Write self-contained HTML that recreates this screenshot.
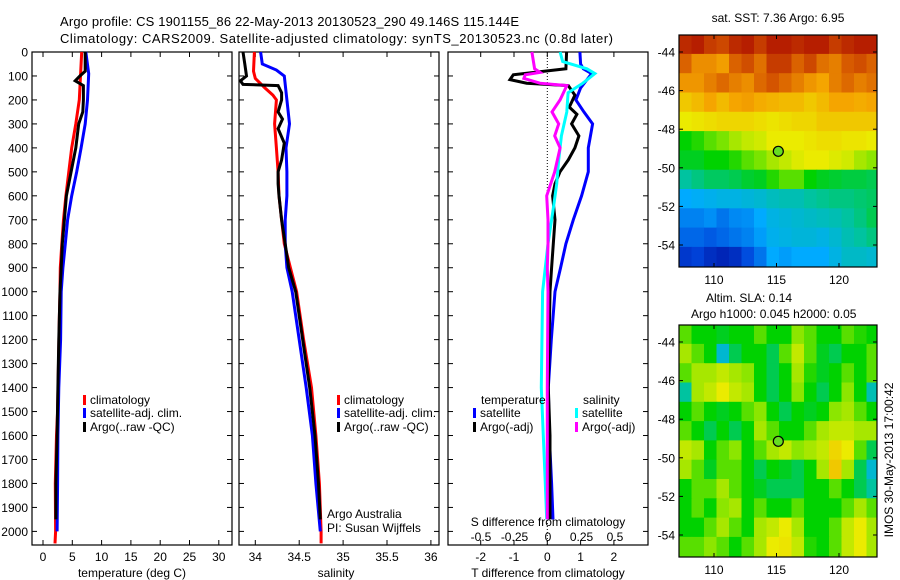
<!DOCTYPE html>
<html><head><meta charset="utf-8">
<style>
body{margin:0;background:#fff;}
svg{display:block;font-family:"Liberation Sans",sans-serif;}
</style></head>
<body>
<svg id="chart" width="900" height="580" viewBox="0 0 900 580">
<g id="g"></g>
</svg>
<script>
// ---------- data ----------
const depthTicks=[0,100,200,300,400,500,600,700,800,900,1000,1100,1200,1300,1400,1500,1600,1700,1800,1900,2000];
const tempTicks=[0,5,10,15,20,25,30];
const salTicks=[34,34.5,35,35.5,36];
const tdTicks=[-2,-1,0,1,2];
const sdTicks=[-0.5,-0.25,0,0.25,0.5];
const latTicks=[-44,-46,-48,-50,-52,-54];
const lonTicks=[110,115,120];

const climTDepth=[0,200,300,400,500,600,700,800,900,1000,1100,1500,1600,1800,2000,2050];
const climT=[6.6,6.2,5.6,4.9,4.4,3.9,3.5,3.2,2.95,2.9,2.8,2.5,2.3,2.1,2.15,2.05];
const satTDepth=[0,90,200,300,400,500,600,700,800,900,1000,1200,1400,1600,1800,2000];
const satT=[7.3,7.8,7.6,7.2,6.5,5.75,4.9,4.2,3.8,3.4,3.1,3.0,2.7,2.55,2.5,2.4];
const argoTDepth=[0,80,100,120,140,200,250,300,400,500,600,700,800,900,1000,1200,1400,1600,1800,1950];
const argoT=[7.2,7.2,6.3,5.5,6.9,6.9,6.8,6.1,5.6,4.8,4.0,3.65,3.3,3.1,2.9,2.7,2.55,2.4,2.2,2.2];

const climSDepth=[0,80,110,150,180,200,300,400,500,600,700,800,900,1000,1200,1400,1600,1800,2000,2050];
const climS=[33.99,33.98,34.0,34.11,34.2,34.24,34.22,34.24,34.26,34.27,34.3,34.33,34.4,34.47,34.55,34.64,34.69,34.73,34.75,34.75];
const satSDepth=[0,50,75,100,200,300,400,500,600,700,800,900,1000,1200,1400,1600,1800,2000];
const satS=[34.06,34.08,34.24,34.33,34.36,34.39,34.35,34.36,34.36,34.34,34.34,34.36,34.42,34.5,34.58,34.65,34.69,34.74];
const argoSDepth=[0,50,100,120,135,140,170,200,250,280,320,380,450,500,550,600,700,800,900,1000,1200,1400,1600,1800,1950];
const argoS=[33.86,33.88,33.9,33.83,33.86,34.26,34.3,34.3,34.26,34.31,34.26,34.33,34.3,34.26,34.26,34.27,34.3,34.34,34.38,34.46,34.54,34.62,34.68,34.72,34.74];

const satTdDepth=[0,50,70,90,150,200,250,300,400,500,600,700,800,900,1000,1200,1400,1600,1800,1950];
const satTd=[0.98,1.0,1.08,1.33,1.0,0.86,1.1,1.36,1.23,1.23,1.03,0.78,0.56,0.4,0.23,0.12,0.03,0.06,0.13,0.17];
const argoTdDepth=[0,70,95,115,130,140,180,230,260,300,350,400,450,500,550,600,700,800,900,1000,1400,1600,1950];
const argoTd=[0.58,0.56,-1.02,-1.12,-0.62,0.63,0.83,0.66,0.89,0.73,0.95,0.83,0.63,0.38,0.23,0.16,0.23,0.18,0.13,0.08,0.03,0.08,0.08];
const satSdDepth=[0,40,70,90,130,170,250,350,450,550,650,800,900,1000,1400,1600,1800,1950];
const satSd=[0.09,0.11,0.29,0.35,0.26,0.15,0.14,0.10,0.08,0.065,0.04,0.0,-0.02,-0.04,-0.05,-0.035,-0.02,-0.01];
const argoSdDepth=[0,70,85,95,110,130,140,200,250,300,350,400,500,600,700,800,900,1000,1400,1950];
const argoSd=[-0.12,-0.10,-0.06,-0.17,-0.18,-0.06,0.14,0.09,0.03,0.08,0.05,0.09,0.05,-0.01,0.0,0.0,-0.005,0.0,-0.005,-0.005];

const sstGrid=[
[0.93,0.95,0.9,0.88,0.93,0.95,0.9,0.95,0.95,0.93,0.95,0.95,0.9,0.93,0.95,0.95],
[0.84,0.78,0.78,0.76,0.84,0.87,0.82,0.9,0.9,0.84,0.88,0.82,0.8,0.85,0.87,0.84],
[0.77,0.77,0.8,0.83,0.8,0.78,0.83,0.86,0.83,0.8,0.77,0.75,0.8,0.83,0.8,0.82],
[0.7,0.72,0.75,0.72,0.75,0.76,0.74,0.73,0.72,0.72,0.7,0.72,0.75,0.75,0.74,0.75],
[0.65,0.66,0.67,0.68,0.68,0.68,0.67,0.66,0.67,0.68,0.68,0.7,0.7,0.7,0.7,0.7],
[0.5,0.52,0.55,0.57,0.6,0.62,0.63,0.65,0.65,0.65,0.66,0.67,0.67,0.66,0.66,0.65],
[0.48,0.48,0.5,0.5,0.52,0.55,0.57,0.6,0.62,0.64,0.65,0.65,0.64,0.63,0.6,0.58],
[0.4,0.42,0.44,0.44,0.45,0.47,0.48,0.52,0.55,0.55,0.5,0.48,0.47,0.46,0.46,0.45],
[0.3,0.31,0.32,0.33,0.33,0.34,0.35,0.37,0.38,0.38,0.4,0.41,0.42,0.42,0.43,0.44],
[0.24,0.24,0.26,0.22,0.25,0.26,0.3,0.33,0.34,0.35,0.36,0.37,0.38,0.4,0.42,0.45],
[0.2,0.2,0.18,0.2,0.22,0.24,0.28,0.32,0.33,0.34,0.34,0.33,0.35,0.38,0.4,0.42],
[0.12,0.14,0.1,0.08,0.1,0.16,0.22,0.3,0.28,0.3,0.3,0.3,0.33,0.36,0.36,0.35]];
const slaGrid=[
[0.55,0.5,0.5,0.48,0.5,0.5,0.55,0.5,0.5,0.58,0.55,0.5,0.5,0.55,0.52,0.5],
[0.6,0.55,0.5,0.35,0.45,0.5,0.5,0.45,0.55,0.62,0.55,0.48,0.45,0.5,0.5,0.55],
[0.55,0.6,0.6,0.62,0.6,0.58,0.5,0.45,0.5,0.6,0.52,0.48,0.5,0.55,0.5,0.55],
[0.4,0.6,0.62,0.65,0.62,0.6,0.5,0.45,0.5,0.58,0.5,0.45,0.5,0.58,0.5,0.38],
[0.5,0.55,0.5,0.48,0.5,0.55,0.58,0.5,0.45,0.5,0.48,0.5,0.58,0.6,0.55,0.5],
[0.55,0.5,0.45,0.5,0.45,0.5,0.6,0.55,0.5,0.5,0.55,0.6,0.62,0.62,0.6,0.6],
[0.62,0.6,0.5,0.55,0.58,0.5,0.55,0.6,0.62,0.58,0.6,0.62,0.68,0.65,0.55,0.45],
[0.6,0.55,0.48,0.55,0.55,0.5,0.45,0.5,0.48,0.45,0.5,0.6,0.7,0.6,0.45,0.35],
[0.5,0.55,0.55,0.6,0.55,0.5,0.48,0.45,0.45,0.45,0.5,0.5,0.55,0.5,0.45,0.4],
[0.5,0.55,0.5,0.58,0.6,0.5,0.55,0.5,0.5,0.55,0.5,0.5,0.5,0.55,0.6,0.55],
[0.5,0.5,0.55,0.6,0.55,0.5,0.6,0.62,0.65,0.6,0.5,0.5,0.55,0.62,0.65,0.6],
[0.55,0.55,0.58,0.55,0.5,0.55,0.6,0.65,0.66,0.62,0.52,0.5,0.55,0.62,0.65,0.6]];
const argoLon=115.144, argoLat=-49.146;

// ---------- helpers ----------
const NS="http://www.w3.org/2000/svg";
const G=document.getElementById('g');
function el(tag,attrs,parent){const e=document.createElementNS(NS,tag);for(const k in attrs)e.setAttribute(k,attrs[k]);(parent||G).appendChild(e);return e;}
function txt(x,y,s,size,anchor,parent){const t=el('text',{x:x,y:y,'font-size':size||12,'text-anchor':anchor||'start',fill:'#000'},parent);t.textContent=s;return t;}
const yD=d=>52+d*0.2397;
const xT=v=>43+v*5.86;
const xS=v=>255.3+(v-34)*87.8;
const xTd=v=>547.3+v*33.3;
const xSd=v=>548+v*134;
function line(xs,ds,fx,color,name){
  const p=xs.map((v,i)=>fx(v).toFixed(1)+','+yD(ds[i]).toFixed(1)).join(' ');
  const l=el('polyline',{points:p,fill:'none',stroke:color,'stroke-width':3,'stroke-linejoin':'miter'});
  
  
}
function frame(x0,x1,y0,y1,name){
  const r=el('rect',{x:x0,y:y0,width:x1-x0,height:y1-y0,fill:'none',stroke:'#000','stroke-width':1.2});
  
  
}
const cmapStops=[[0,[0,0,140]],[0.15,[0,70,220]],[0.3,[0,170,255]],[0.4,[0,195,160]],[0.5,[0,210,0]],[0.58,[140,230,0]],[0.65,[235,235,0]],[0.75,[245,165,0]],[0.85,[215,90,0]],[1,[165,0,0]]];
function jet(v){
  v=Math.max(0,Math.min(1,v));
  for(let i=1;i<cmapStops.length;i++){
    if(v<=cmapStops[i][0]){
      const [a,ca]=cmapStops[i-1],[b,cb]=cmapStops[i];const f=(v-a)/(b-a);
      return `rgb(${ca.map((c,k)=>Math.round(c+(cb[k]-c)*f)).join(',')})`;
    }
  }
  return 'rgb(165,0,0)';
}

// ---------- titles ----------
let t=txt(60,26,'Argo profile: CS 1901155_86 22-May-2013 20130523_290 49.146S 115.144E',13);
t.setAttribute('textLength','459');
t=txt(60,43,'Climatology: CARS2009. Satellite-adjusted climatology: synTS_20130523.nc (0.8d later)',13);
t.setAttribute('textLength','553');

// ---------- depth axis ----------
depthTicks.forEach(d=>{const a=txt(28,yD(d)+4.5,String(d),12,'end');});
const B=545;
frame(32,232,52,B,'temperature-panel');
frame(239,439,52,B,'salinity-panel');
frame(448,648,52,B,'difference-panel');
[[32,232],[239,439],[448,648]].forEach(([a,b])=>depthTicks.forEach(d=>{el('line',{x1:a,x2:a+5,y1:yD(d),y2:yD(d),stroke:'#000'});el('line',{x1:b-5,x2:b,y1:yD(d),y2:yD(d),stroke:'#000'});}));
tempTicks.forEach(v=>{el('line',{x1:xT(v),x2:xT(v),y1:B,y2:B-5,stroke:'#000'});el('line',{x1:xT(v),x2:xT(v),y1:52,y2:57,stroke:'#000'});const a=txt(xT(v),561,String(v),12,'middle');});
t=txt(132,577,'temperature (deg C)',12,'middle');
salTicks.forEach(v=>{el('line',{x1:xS(v),x2:xS(v),y1:B,y2:B-5,stroke:'#000'});el('line',{x1:xS(v),x2:xS(v),y1:52,y2:57,stroke:'#000'});const a=txt(xS(v),561,String(v),12,'middle');});
t=txt(336,577,'salinity',12,'middle');
tdTicks.forEach(v=>{el('line',{x1:xTd(v),x2:xTd(v),y1:B,y2:B-5,stroke:'#000'});el('line',{x1:xTd(v),x2:xTd(v),y1:52,y2:57,stroke:'#000'});const a=txt(xTd(v),561,String(v),12,'middle');});
t=txt(548,577,'T difference from climatology',12,'middle');
sdTicks.forEach(v=>{const a=txt(xSd(v),541,String(v),12,'middle');});
t=txt(548,526,'S difference from climatology',12,'middle');
el('line',{x1:xTd(0),x2:xTd(0),y1:52,y2:B,stroke:'#000','stroke-dasharray':'1,2'});

// ---------- series ----------
line(climT,climTDepth,xT,'#ff0000','climatology-temperature-line');
line(satT,satTDepth,xT,'#0000ff','satellite-temperature-line');
line(argoT,argoTDepth,xT,'#000000','argo-temperature-line');
line(climS,climSDepth,xS,'#ff0000','climatology-salinity-line');
line(satS,satSDepth,xS,'#0000ff','satellite-salinity-line');
line(argoS,argoSDepth,xS,'#000000','argo-salinity-line');
line(satTd,satTdDepth,xTd,'#0000ff','satellite-t-diff-line');
line(argoTd,argoTdDepth,xTd,'#000000','argo-t-diff-line');
line(satSd,satSdDepth,xSd,'#00ffff','satellite-s-diff-line');
line(argoSd,argoSdDepth,xSd,'#ff00ff','argo-s-diff-line');

// ---------- legends ----------
function legend(x,y,color,label,name){
  const r=el('rect',{x:x,y:y-9,width:3,height:10,fill:color});
  
  const a=txt(x+7,y,label,12);
}
legend(83,404,'#ff0000','climatology','legend-climatology');
legend(83,417,'#0000ff','satellite-adj. clim.','legend-satellite-adj');
legend(83,431,'#000000','Argo(..raw -QC)','legend-argo');
legend(337,404,'#ff0000','climatology','legend-climatology-sal');
legend(337,417,'#0000ff','satellite-adj. clim.','legend-satellite-adj-sal');
legend(337,431,'#000000','Argo(..raw -QC)','legend-argo-sal');
t=txt(481,404,'temperature',12);
t=txt(583,404,'salinity',12);
legend(473,417,'#0000ff','satellite','legend-t-satellite');
legend(473,431,'#000000','Argo(-adj)','legend-t-argo');
legend(575,417,'#00ffff','satellite','legend-s-satellite');
legend(575,431,'#ff00ff','Argo(-adj)','legend-s-argo');
t=txt(327,518,'Argo Australia',12);
t=txt(327,532,'PI: Susan Wijffels',12);

// ---------- maps ----------
function map(y0,y1,latRef,grid,name){
  const x0=679,x1=877;
  const fx=lon=>714+(lon-110)*12.5;
  const fy=lat=>latRef+(-44-lat)*19.3;
  const cid='clip'+name;
  const cp=el('clipPath',{id:cid});el('rect',{x:x0,y:y0,width:x1-x0,height:y1-y0},cp);
  const g=el('g',{'clip-path':`url(#${cid})`});
  
  
  grid.forEach((row,i)=>row.forEach((v,j)=>{
    const lon=107.2+j, lat=-43.1-i;
    const c=el('rect',{x:fx(lon).toFixed(1),y:fy(lat).toFixed(1),width:13.2,height:20,fill:jet(v)},g);
    
    
  }));
  frame(x0,x1,y0,y1,name+'-frame');
  latTicks.forEach(l=>{el('line',{x1:x0,x2:x0+4,y1:fy(l),y2:fy(l),stroke:'#000'});el('line',{x1:x1-4,x2:x1,y1:fy(l),y2:fy(l),stroke:'#000'});const a=txt(675,fy(l)+4.5,String(l),12,'end');});
  lonTicks.forEach(l=>{el('line',{x1:fx(l),x2:fx(l),y1:y0,y2:y0+4,stroke:'#000'});el('line',{x1:fx(l),x2:fx(l),y1:y1-4,y2:y1,stroke:'#000'});const a=txt(fx(l),y1+17,String(l),12,'middle');});
  const m=el('circle',{cx:fx(argoLon),cy:fy(argoLat),r:5,fill:'#66dd22',stroke:'#000','stroke-width':1.2});
  
  
}
map(35,267,52,sstGrid,'sst-map');
map(325,557,342,slaGrid,'sla-map');
t=txt(778,22,'sat. SST: 7.36 Argo: 6.95',12,'middle');
t=txt(706,302,'Altim. SLA: 0.14',12);
t=txt(691,318,'Argo h1000: 0.045 h2000: 0.05',12);
t=txt(0,0,'IMOS 30-May-2013 17:00:42',12,'middle');
t.setAttribute('transform','translate(893,460) rotate(-90)');

</script>
</body></html>
